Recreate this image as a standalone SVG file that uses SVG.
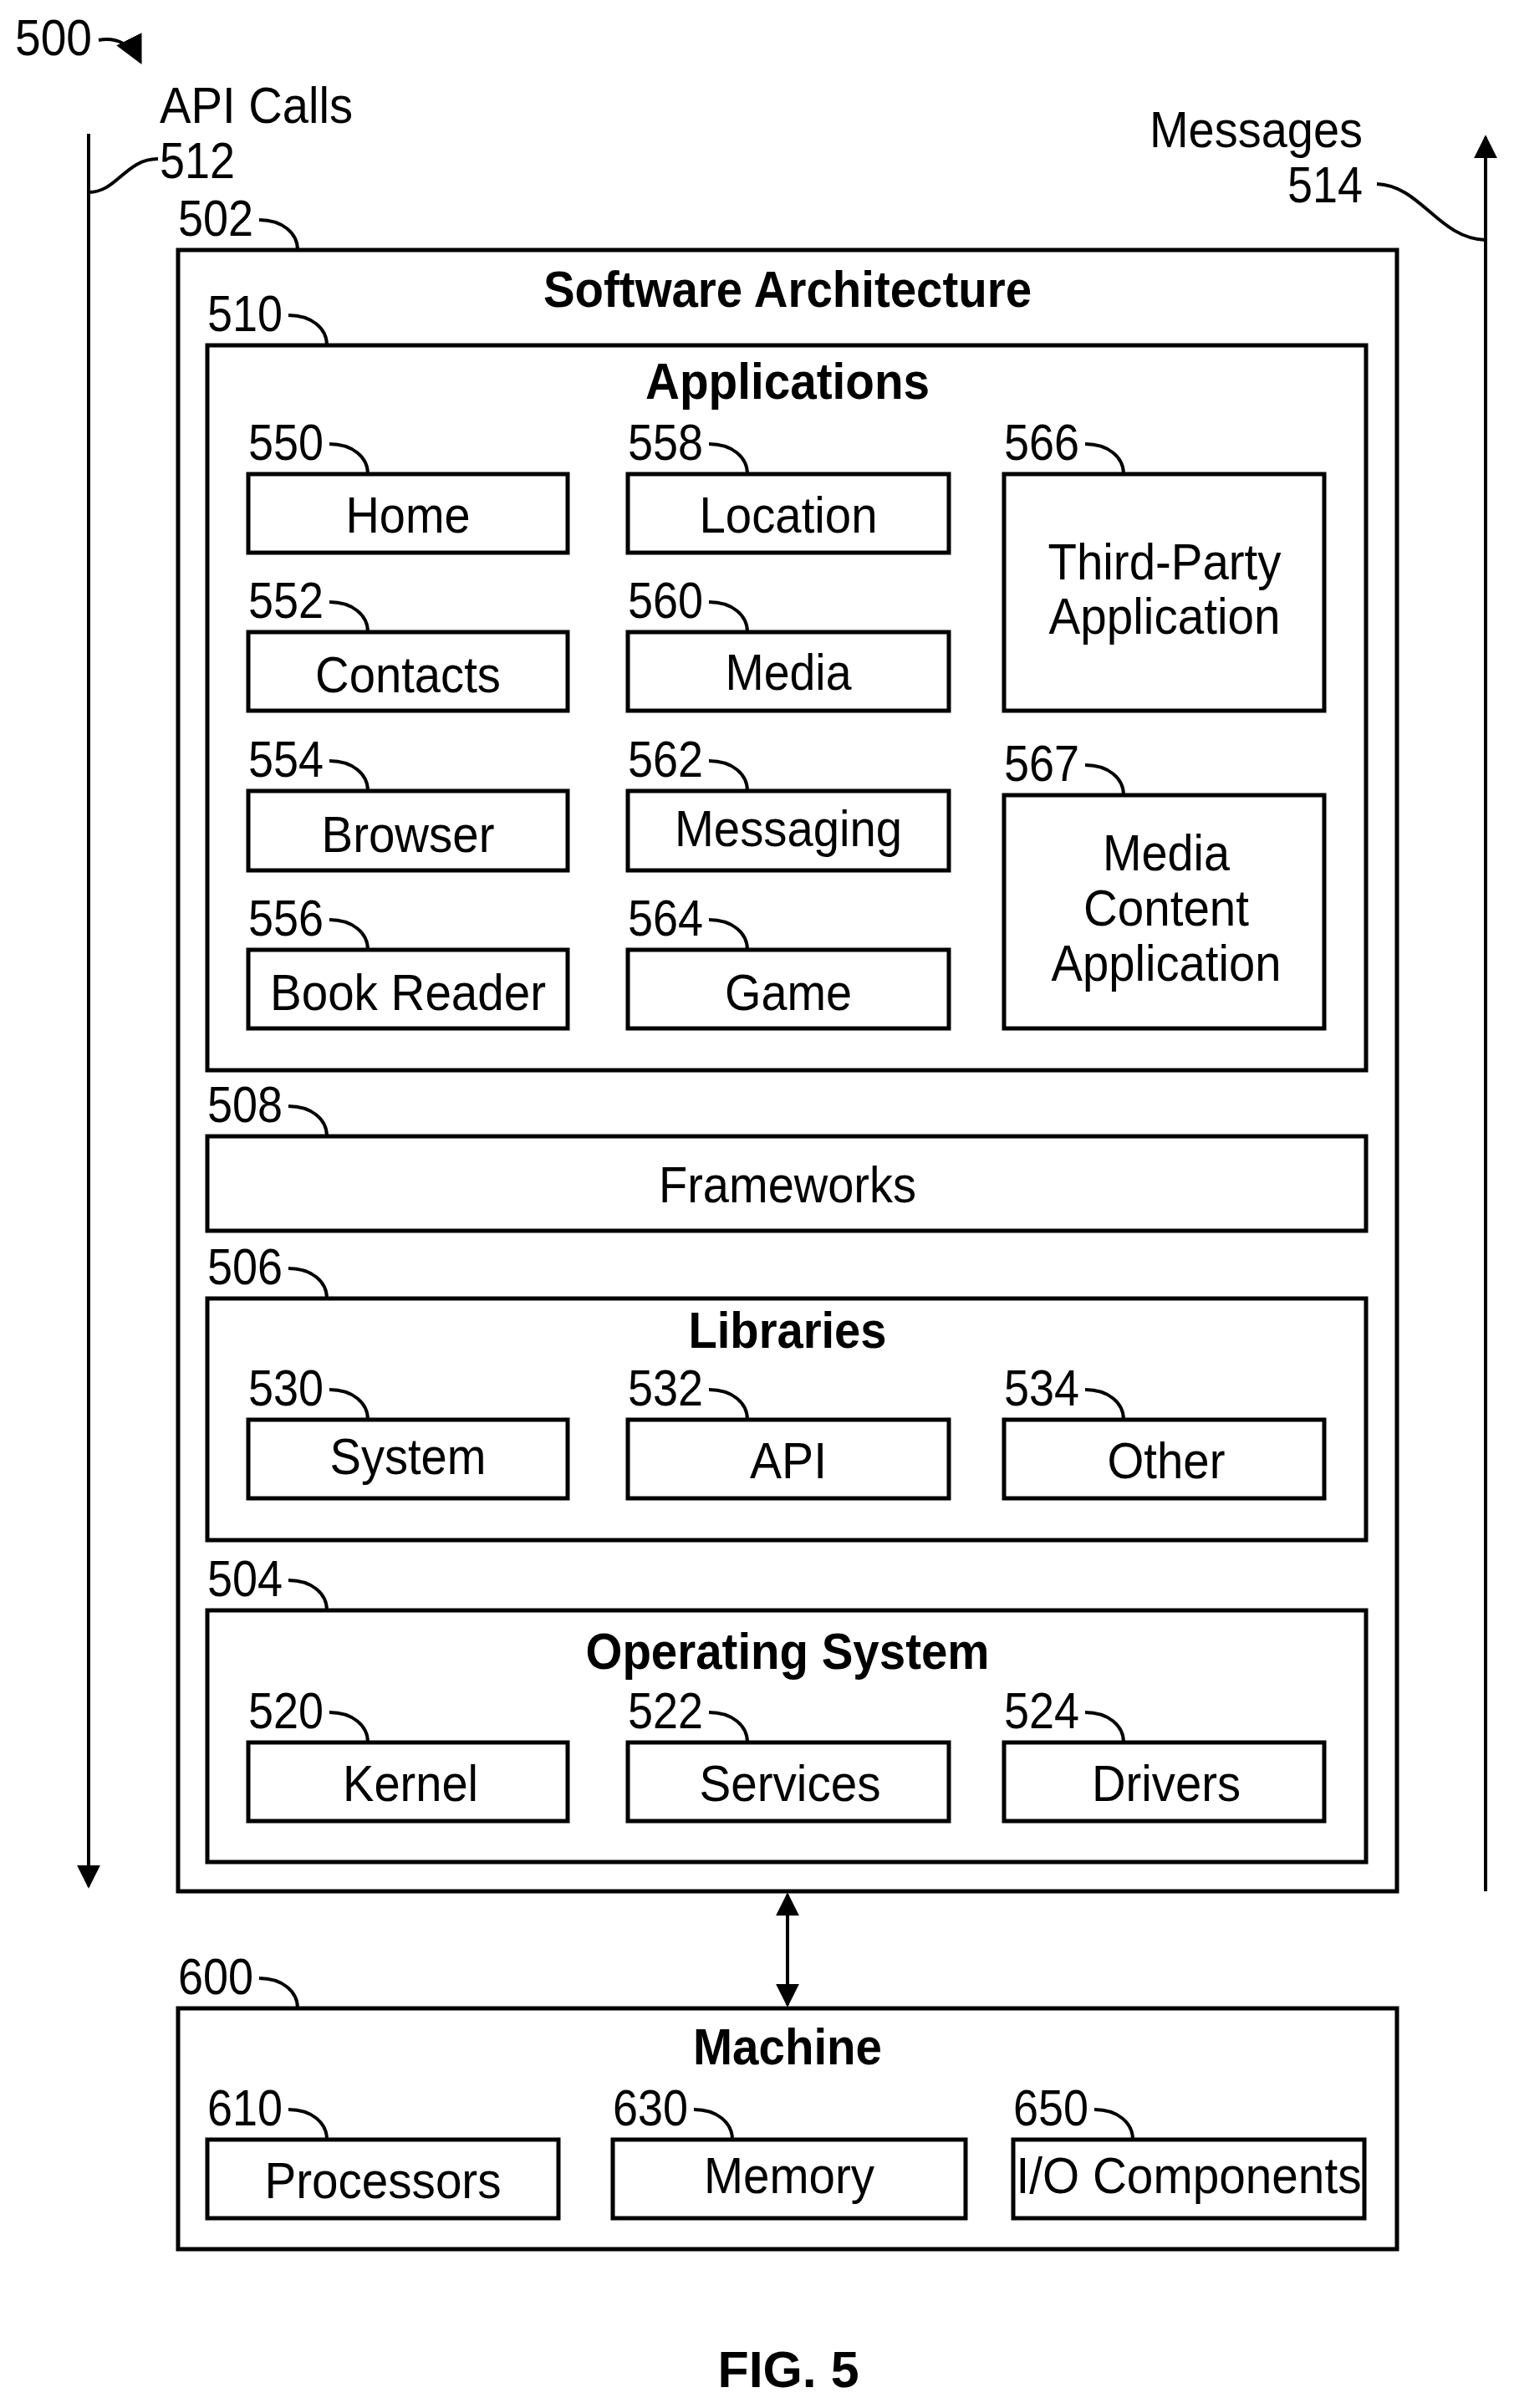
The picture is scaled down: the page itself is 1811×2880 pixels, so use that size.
<svg xmlns="http://www.w3.org/2000/svg" width="1811" height="2880" viewBox="0 0 1811 2880">
<style>
text{font-family:"Liberation Sans",Arial,sans-serif;font-size:62px;fill:#000}
.b{font-weight:bold}
.m{text-anchor:middle}
rect{fill:none;stroke:#000;stroke-width:5}
path,line{fill:none;stroke:#000;stroke-width:4}
</style>
<defs>
<marker id="ah" viewBox="0 0 10 10" refX="9" refY="5" markerWidth="28" markerHeight="28" markerUnits="userSpaceOnUse" orient="auto-start-reverse"><path d="M0,0 L10,5 L0,10 z" style="fill:#000;stroke:none"/></marker>
<marker id="ah2" viewBox="0 0 10 10" refX="9" refY="5" markerWidth="34" markerHeight="34" markerUnits="userSpaceOnUse" orient="auto"><path d="M0,0 L10,5 L0,10 z" style="fill:#000;stroke:none"/></marker>
</defs>
<rect width="1811" height="2880" style="fill:#fff;stroke:none"/>

<g id="header">
<text x="18" y="66" textLength="92" lengthAdjust="spacingAndGlyphs">500</text>
<path d="M118,48 C140,44 158,54 168,74" marker-end="url(#ah2)"/>
<text x="191" y="147" textLength="231" lengthAdjust="spacingAndGlyphs">API Calls</text>
<text x="191" y="213" textLength="90" lengthAdjust="spacingAndGlyphs">512</text>
<text x="1630" y="176" text-anchor="end" textLength="255" lengthAdjust="spacingAndGlyphs">Messages</text>
<text x="1630" y="242" text-anchor="end" textLength="90" lengthAdjust="spacingAndGlyphs">514</text>
</g>

<g id="connectors">
<line x1="106" y1="160" x2="106" y2="2256" marker-end="url(#ah)"/>
<path d="M189,190 C150,190 140,230 106,230"/>
<line x1="1777" y1="2262" x2="1777" y2="164" marker-end="url(#ah)"/>
<path d="M1647,220 C1700,222 1720,285 1777,287"/>
<line x1="942" y1="2266" x2="942" y2="2398" marker-start="url(#ah)" marker-end="url(#ah)"/>
</g>

<g id="software-architecture">
<rect x="213" y="299" width="1458" height="1963"/>
<text x="942" y="367" class="b m" textLength="584" lengthAdjust="spacingAndGlyphs">Software Architecture</text>
<text x="213" y="282" textLength="90" lengthAdjust="spacingAndGlyphs">502</text>
<path d="M310,263 C338,263 356,279 356,299"/>
</g>

<g id="applications">
<rect x="248" y="413" width="1386" height="867"/>
<text x="942" y="477" class="b m" textLength="340" lengthAdjust="spacingAndGlyphs">Applications</text>
<text x="248" y="396" textLength="90" lengthAdjust="spacingAndGlyphs">510</text>
<path d="M345,377 C373,377 391,393 391,413"/>
</g>

<g id="home"><rect x="297" y="567" width="382" height="94"/><text x="488" y="637" class="m" textLength="149" lengthAdjust="spacingAndGlyphs">Home</text>
<text x="297" y="550" textLength="90" lengthAdjust="spacingAndGlyphs">550</text><path d="M394,531 C422,531 440,547 440,567"/></g>
<g id="contacts"><rect x="297" y="756" width="382" height="94"/><text x="488" y="828" class="m" textLength="222" lengthAdjust="spacingAndGlyphs">Contacts</text>
<text x="297" y="739" textLength="90" lengthAdjust="spacingAndGlyphs">552</text><path d="M394,720 C422,720 440,736 440,756"/></g>
<g id="browser"><rect x="297" y="946" width="382" height="95"/><text x="488" y="1019" class="m" textLength="207" lengthAdjust="spacingAndGlyphs">Browser</text>
<text x="297" y="929" textLength="90" lengthAdjust="spacingAndGlyphs">554</text><path d="M394,910 C422,910 440,926 440,946"/></g>
<g id="book-reader"><rect x="297" y="1136" width="382" height="94"/><text x="488" y="1208" class="m" textLength="330" lengthAdjust="spacingAndGlyphs">Book Reader</text>
<text x="297" y="1119" textLength="90" lengthAdjust="spacingAndGlyphs">556</text><path d="M394,1100 C422,1100 440,1116 440,1136"/></g>

<g id="location"><rect x="751" y="567" width="384" height="94"/><text x="943" y="637" class="m" textLength="213" lengthAdjust="spacingAndGlyphs">Location</text>
<text x="751" y="550" textLength="90" lengthAdjust="spacingAndGlyphs">558</text><path d="M848,531 C876,531 894,547 894,567"/></g>
<g id="media"><rect x="751" y="756" width="384" height="94"/><text x="943" y="825" class="m" textLength="151" lengthAdjust="spacingAndGlyphs">Media</text>
<text x="751" y="739" textLength="90" lengthAdjust="spacingAndGlyphs">560</text><path d="M848,720 C876,720 894,736 894,756"/></g>
<g id="messaging"><rect x="751" y="946" width="384" height="95"/><text x="943" y="1012" class="m" textLength="272" lengthAdjust="spacingAndGlyphs">Messaging</text>
<text x="751" y="929" textLength="90" lengthAdjust="spacingAndGlyphs">562</text><path d="M848,910 C876,910 894,926 894,946"/></g>
<g id="game"><rect x="751" y="1136" width="384" height="94"/><text x="943" y="1208" class="m" textLength="152" lengthAdjust="spacingAndGlyphs">Game</text>
<text x="751" y="1119" textLength="90" lengthAdjust="spacingAndGlyphs">564</text><path d="M848,1100 C876,1100 894,1116 894,1136"/></g>

<g id="third-party"><rect x="1201" y="567" width="383" height="283"/>
<text x="1393" y="693" class="m" textLength="279" lengthAdjust="spacingAndGlyphs">Third-Party</text>
<text x="1393" y="758" class="m" textLength="277" lengthAdjust="spacingAndGlyphs">Application</text>
<text x="1201" y="550" textLength="90" lengthAdjust="spacingAndGlyphs">566</text><path d="M1298,531 C1326,531 1344,547 1344,567"/></g>
<g id="media-content"><rect x="1201" y="951" width="383" height="279"/>
<text x="1395" y="1041" class="m" textLength="152" lengthAdjust="spacingAndGlyphs">Media</text>
<text x="1395" y="1107" class="m" textLength="198" lengthAdjust="spacingAndGlyphs">Content</text>
<text x="1395" y="1173" class="m" textLength="275" lengthAdjust="spacingAndGlyphs">Application</text>
<text x="1201" y="934" textLength="90" lengthAdjust="spacingAndGlyphs">567</text><path d="M1298,915 C1326,915 1344,931 1344,951"/></g>

<g id="frameworks"><rect x="248" y="1359" width="1386" height="113"/>
<text x="942" y="1438" class="m" textLength="308" lengthAdjust="spacingAndGlyphs">Frameworks</text>
<text x="248" y="1342" textLength="90" lengthAdjust="spacingAndGlyphs">508</text><path d="M345,1323 C373,1323 391,1339 391,1359"/></g>

<g id="libraries"><rect x="248" y="1553" width="1386" height="289"/>
<text x="942" y="1612" class="b m" textLength="237" lengthAdjust="spacingAndGlyphs">Libraries</text>
<text x="248" y="1536" textLength="90" lengthAdjust="spacingAndGlyphs">506</text><path d="M345,1517 C373,1517 391,1533 391,1553"/></g>
<g id="system"><rect x="297" y="1698" width="382" height="94"/><text x="488" y="1763" class="m" textLength="187" lengthAdjust="spacingAndGlyphs">System</text>
<text x="297" y="1681" textLength="90" lengthAdjust="spacingAndGlyphs">530</text><path d="M394,1662 C422,1662 440,1678 440,1698"/></g>
<g id="api"><rect x="751" y="1698" width="384" height="94"/><text x="943" y="1768" class="m" textLength="92" lengthAdjust="spacingAndGlyphs">API</text>
<text x="751" y="1681" textLength="90" lengthAdjust="spacingAndGlyphs">532</text><path d="M848,1662 C876,1662 894,1678 894,1698"/></g>
<g id="other"><rect x="1201" y="1698" width="383" height="94"/><text x="1395" y="1768" class="m" textLength="141" lengthAdjust="spacingAndGlyphs">Other</text>
<text x="1201" y="1681" textLength="90" lengthAdjust="spacingAndGlyphs">534</text><path d="M1298,1662 C1326,1662 1344,1678 1344,1698"/></g>

<g id="operating-system"><rect x="248" y="1926" width="1386" height="301"/>
<text x="942" y="1996" class="b m" textLength="483" lengthAdjust="spacingAndGlyphs">Operating System</text>
<text x="248" y="1909" textLength="90" lengthAdjust="spacingAndGlyphs">504</text><path d="M345,1890 C373,1890 391,1906 391,1926"/></g>
<g id="kernel"><rect x="297" y="2084" width="382" height="94"/><text x="491" y="2154" class="m" textLength="162" lengthAdjust="spacingAndGlyphs">Kernel</text>
<text x="297" y="2067" textLength="90" lengthAdjust="spacingAndGlyphs">520</text><path d="M394,2048 C422,2048 440,2064 440,2084"/></g>
<g id="services"><rect x="751" y="2084" width="384" height="94"/><text x="945" y="2154" class="m" textLength="217" lengthAdjust="spacingAndGlyphs">Services</text>
<text x="751" y="2067" textLength="90" lengthAdjust="spacingAndGlyphs">522</text><path d="M848,2048 C876,2048 894,2064 894,2084"/></g>
<g id="drivers"><rect x="1201" y="2084" width="383" height="94"/><text x="1395" y="2154" class="m" textLength="178" lengthAdjust="spacingAndGlyphs">Drivers</text>
<text x="1201" y="2067" textLength="90" lengthAdjust="spacingAndGlyphs">524</text><path d="M1298,2048 C1326,2048 1344,2064 1344,2084"/></g>

<g id="machine"><rect x="213" y="2402" width="1458" height="288"/>
<text x="942" y="2469" class="b m" textLength="226" lengthAdjust="spacingAndGlyphs">Machine</text>
<text x="213" y="2385" textLength="90" lengthAdjust="spacingAndGlyphs">600</text><path d="M310,2366 C338,2366 356,2382 356,2402"/></g>
<g id="processors"><rect x="248" y="2559" width="420" height="94"/><text x="458" y="2629" class="m" textLength="283" lengthAdjust="spacingAndGlyphs">Processors</text>
<text x="248" y="2542" textLength="90" lengthAdjust="spacingAndGlyphs">610</text><path d="M345,2523 C373,2523 391,2539 391,2559"/></g>
<g id="memory"><rect x="733" y="2559" width="422" height="94"/><text x="944" y="2623" class="m" textLength="204" lengthAdjust="spacingAndGlyphs">Memory</text>
<text x="733" y="2542" textLength="90" lengthAdjust="spacingAndGlyphs">630</text><path d="M830,2523 C858,2523 876,2539 876,2559"/></g>
<g id="io-components"><rect x="1212" y="2559" width="420" height="94"/><text x="1422" y="2623" class="m" textLength="413" lengthAdjust="spacingAndGlyphs">I/O Components</text>
<text x="1212" y="2542" textLength="90" lengthAdjust="spacingAndGlyphs">650</text><path d="M1309,2523 C1337,2523 1355,2539 1355,2559"/></g>

<text x="943" y="2855" class="b m" textLength="169" lengthAdjust="spacingAndGlyphs">FIG. 5</text>
</svg>
